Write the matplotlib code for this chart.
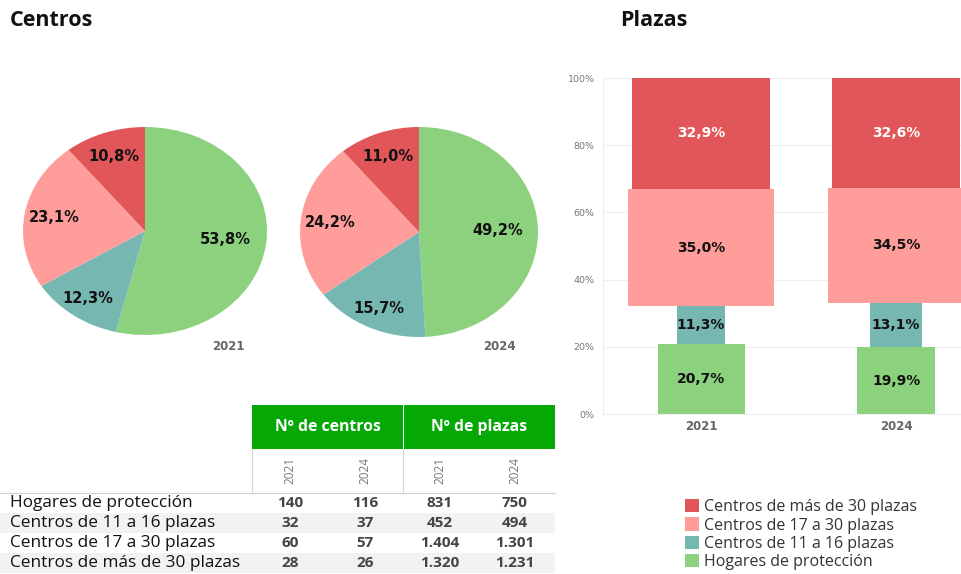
import matplotlib
matplotlib.use("Agg")
import matplotlib.pyplot as plt
import numpy as np
from matplotlib.patches import Rectangle, Patch

# ---------------- data ----------------
categories = ["Hogares de protección", "Centros de 11 a 16 plazas",
              "Centros de 17 a 30 plazas", "Centros de más de 30 plazas"]
years = ["2021", "2024"]
centros_2021 = [140, 32, 60, 28]
centros_2024 = [116, 37, 57, 26]
plazas_2021 = [831, 452, 1404, 1320]
plazas_2024 = [750, 494, 1301, 1231]
plazas_fmt_2021 = ["831", "452", "1.404", "1.320"]
plazas_fmt_2024 = ["750", "494", "1.301", "1.231"]

# ---------------- style ----------------
colors = ["#8CD17D", "#76B7B2", "#FF9D9A", "#E15759"]
label_radius = [0.66, 0.80, 0.75, 0.76]
W, H = 962, 574
fig = plt.figure(figsize=(W / 100, H / 100), dpi=100)
fig.patch.set_facecolor("white")


def fr(x0, y0, x1, y1):
    """pixel box (top-left origin) -> figure fraction rect"""
    return [x0 / W, 1 - y1 / H, (x1 - x0) / W, (y1 - y0) / H]


def pct_fmt(p):
    return f"{p:.1f}%".replace(".", ",")


# ---------------- background axes (titles, table) ----------------
bg = fig.add_axes([0, 0, 1, 1])
bg.set_xlim(0, W)
bg.set_ylim(H, 0)
bg.axis("off")

bg.text(10, 21, "Centros", fontsize=15.5, fontweight="bold", color="#111111",
        ha="left", va="center", family="Open Sans")
bg.text(620, 20, "Plazas", fontsize=15.5, fontweight="bold", color="#111111",
        ha="left", va="center", family="Open Sans")

# ---------------- pies ----------------
pie_boxes = [(23, 127, 267, 335), (300, 127, 538, 337)]
pie_data = [centros_2021, centros_2024]
for (box, vals, yr) in zip(pie_boxes, pie_data, years):
    ax = fig.add_axes(fr(*box))
    wedges, texts, autotexts = ax.pie(
        vals, colors=colors, startangle=90, counterclock=False,
        autopct=pct_fmt, pctdistance=0.7,
        wedgeprops=dict(linewidth=0),
        textprops=dict(fontsize=10.5, fontweight="bold", color="#111111"))
    for w, t, r in zip(wedges, autotexts, label_radius):
        ang = np.deg2rad((w.theta1 + w.theta2) / 2)
        t.set_position((r * np.cos(ang), r * np.sin(ang)))
    ax.set_aspect("auto")
    ax.set_xlim(-1, 1)
    ax.set_ylim(-1, 1)
    bg.text(box[2] - 39, 347, yr, fontsize=8.5, fontweight="bold",
            color="#666666", ha="center", va="center")

# ---------------- table ----------------
col_x = [290, 365, 440, 515]
row_y = [503, 523, 543, 563]
row_h = 20
for i, y in enumerate(row_y):
    if i % 2 == 1:
        bg.add_patch(Rectangle((0, y - row_h / 2), 555, row_h,
                               facecolor="#F2F2F2", edgecolor="none", zorder=0))
green = "#06A806"
bg.add_patch(Rectangle((252, 405), 151, 44, facecolor=green, edgecolor="none"))
bg.add_patch(Rectangle((404, 405), 151, 44, facecolor=green, edgecolor="none"))
bg.text(328, 427, "Nº de centros", color="white", fontsize=11.3,
        fontweight="bold", ha="center", va="center", family="Open Sans")
bg.text(479, 427, "Nº de plazas", color="white", fontsize=11.3,
        fontweight="bold", ha="center", va="center", family="Open Sans")
for cx, yr in zip(col_x, years * 2):
    bg.text(cx, 470, yr, rotation=90, color="#777777", fontsize=8.5,
            ha="center", va="center", family="Open Sans")
for xv in (252, 403):
    bg.plot([xv, xv], [449, 493], color="#D8D8D8", lw=0.8)
bg.plot([0, 555], [493, 493], color="#D0D0D0", lw=0.8)
table_cols = [centros_2021, centros_2024, plazas_fmt_2021, plazas_fmt_2024]
for i, (cat, y) in enumerate(zip(categories, row_y)):
    bg.text(10, y, cat, fontsize=12.4, color="#111111", ha="left",
            va="center", family="Open Sans")
    for cx, col in zip(col_x, table_cols):
        bg.text(cx, y, str(col[i]), fontsize=11, fontweight="bold",
                color="#444444", ha="center", va="center", family="Open Sans")

# ---------------- variable-width stacked bars ----------------
bx = fig.add_axes(fr(603, 78, 962, 414))
width_scale = 0.000536
for xi, plz in enumerate([plazas_2021, plazas_2024]):
    total = sum(plz)
    bottom = 0.0
    for k, v in enumerate(plz):
        pct = v / total * 100
        bx.bar(xi, pct, width=v * width_scale, bottom=bottom,
               color=colors[k], edgecolor="none", zorder=2)
        tc = "white" if k == 3 else "#111111"
        bx.text(xi, bottom + pct / 2, pct_fmt(pct), ha="center", va="center",
                fontsize=10, fontweight="bold", color=tc, zorder=3)
        bottom += pct
bx.set_xlim(-0.503, 1.338)
bx.set_ylim(0, 100)
bx.set_yticks([0, 20, 40, 60, 80, 100])
bx.set_yticklabels([f"{t}%" for t in [0, 20, 40, 60, 80, 100]],
                   fontsize=6.8, color="#777777")
bx.set_xticks([0, 1])
bx.set_xticklabels(years, fontsize=8.5, fontweight="bold", color="#666666")
bx.tick_params(axis="y", length=0, pad=6)
bx.tick_params(axis="x", length=0, pad=4)
bx.grid(axis="y", color="#EEEEEE", lw=0.8, zorder=0)
for s in ["top", "right"]:
    bx.spines[s].set_visible(False)
for s in ["left", "bottom"]:
    bx.spines[s].set_color("#EEEEEE")
    bx.spines[s].set_linewidth(0.8)

# ---------------- legend ----------------
handles = [Patch(facecolor=colors[k], edgecolor="none") for k in [3, 2, 1, 0]]
labels = [categories[k] for k in [3, 2, 1, 0]]
fig.legend(handles, labels, loc="upper left",
           bbox_to_anchor=(677 / W, 1 - 491 / H), frameon=False,
           prop=dict(family="Open Sans", size=11.5), labelcolor="#333333",
           handlelength=0.9, handleheight=0.9, handletextpad=0.3,
           labelspacing=0.14, borderpad=0)

fig.savefig("out.png", dpi=100, facecolor="white")
